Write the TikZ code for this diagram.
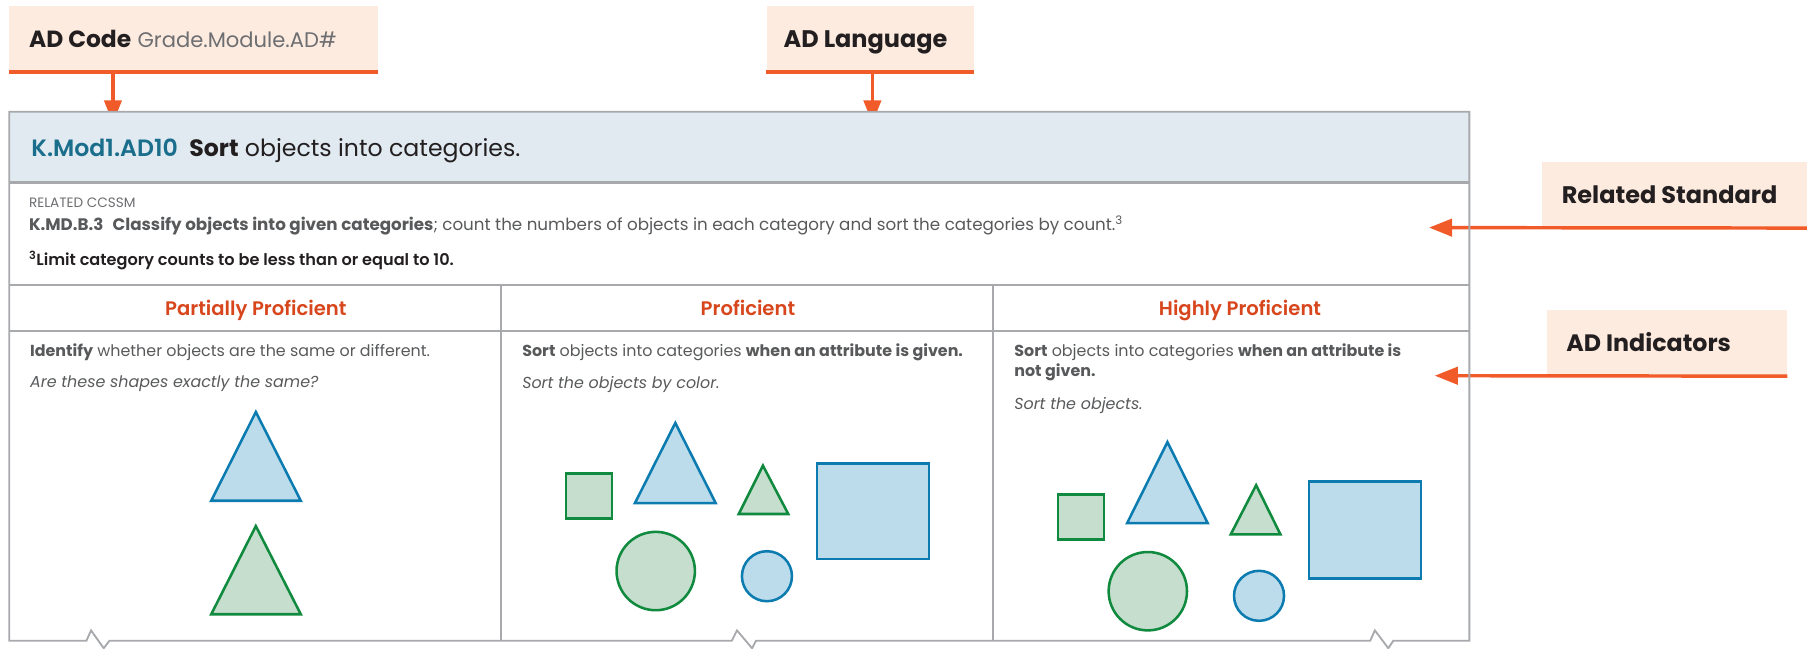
\documentclass[tikz,border=0pt]{standalone}
\usepackage{fontspec}
\setmainfont{Poppins}
\newfontfamily\medfont{Poppins}[UprightFont=* Medium, BoldFont=* SemiBold]
\usetikzlibrary{arrows.meta}

\definecolor{peach}{HTML}{FDEBDF}
\definecolor{accent}{HTML}{F15A29}
\definecolor{band}{HTML}{E0EAF0}
\definecolor{rulegray}{HTML}{A7A9AC}
\definecolor{codeteal}{HTML}{1A6E8C}
\definecolor{levelred}{HTML}{D7461D}
\definecolor{darktext}{HTML}{231F20}
\definecolor{bodygray}{HTML}{58595B}
\definecolor{lightgray}{HTML}{6D6E71}
\definecolor{bluefill}{HTML}{BCDCEC}
\definecolor{bluedraw}{HTML}{0C7CB0}
\definecolor{greenfill}{HTML}{C6DECD}
\definecolor{greendraw}{HTML}{108A3E}

\newcommand{\fs}[1]{\fontsize{#1pt}{#1pt}\selectfont}
\newcommand{\semi}[1]{{\medfont\bfseries #1}}

\begin{document}
\begin{tikzpicture}[x=1pt,y=-1pt,
  callout/.style={fill=peach, draw=none, inner sep=0pt, anchor=north west},
  calloutline/.style={draw=accent, line width=3pt},
  pointer/.style={draw=accent, line width=3pt, -{Triangle[length=20pt,width=15pt]}},
  rule/.style={draw=rulegray, line width=1.6pt},
  lbl/.style={inner sep=0pt, anchor=base west},
  bshape/.style={draw=bluedraw, fill=bluefill, line width=2.2pt},
  gshape/.style={draw=greendraw, fill=greenfill, line width=2.2pt},
]
\useasboundingbox (0,0) rectangle (1568,563);

% ---------- callouts above the table ----------
\node[callout, minimum width=320pt, minimum height=57pt] (codebox) at (8,5) {};
\draw[calloutline] (codebox.south west) -- (codebox.south east);
\node[lbl] (codetext) at (25,41) {\fs{20.3}\color{darktext}\textbf{AD Code} {\fs{18.3}\color{lightgray}Grade.Module.AD\#}};

\node[callout, minimum width=180pt, minimum height=57pt] (langbox) at (665,5) {};
\draw[calloutline] (langbox.south west) -- (langbox.south east);
\node[lbl, anchor=base] (langtext) at (751,41) {\fs{20.8}\color{darktext}\textbf{AD Language}};

\coordinate (codetip) at (98,107);
\coordinate (langtip) at (757,107);
\draw[pointer] (codebox.south -| codetip) -- (codetip);
\draw[pointer] (langbox.south -| langtip) -- (langtip);

% ---------- callouts to the right ----------
\node[callout, minimum width=230pt, minimum height=57pt] (stdbox) at (1338,140.5) {};
\node[lbl] (stdtext) at (1355,177) {\fs{20.8}\color{darktext}\textbf{Related Standard}};
\coordinate (stdtip) at (1240,197.5);
\draw[pointer] (stdbox.south east) -- (stdtip);

\node[callout, minimum width=208pt, minimum height=57pt] (indbox) at (1342.5,269) {};
\node[lbl] (indtext) at (1359,305) {\fs{20.6}\color{darktext}\textbf{AD Indicators}};
\coordinate (indtip) at (1245,326);
\draw[pointer] (indbox.south east) -- (indtip);

% ---------- table ----------
\node[fill=band, draw=none, inner sep=0pt, anchor=north west,
      minimum width=1267pt, minimum height=61pt] (band) at (8,97) {};
\draw[rule] (8,556) -- (8,97) -- (1275,97) -- (1275,556)
  -- (1209,556) -- (1204.7,562.5) -- (1193,547) -- (1189,556)
  -- (656,556) -- (652.6,562.5) -- (639.5,547) -- (635,556)
  -- (95,556) -- (90,562.5) -- (79,547) -- (75,556) -- cycle;
\draw[rule, line width=2pt] (band.south west) -- (band.south east);
\draw[rule] (8,247) -- (1275,247);
\draw[rule] (8,287) -- (1275,287);
\draw[rule] (435,247) -- (435,556);
\draw[rule] (862,247) -- (862,556);

% header row
\node[lbl] (adtitle) at (27,136) {\fs{20.5}{\color{codeteal}\semi{K.Mod1.AD10}}\hspace{10pt}\color{darktext}\textbf{Sort} objects into categories.};

% related standard
\node[lbl] (relhead) at (25,180) {\fs{11.8}\color{lightgray}RELATED CCSSM};
\node[lbl] (reltext) at (25,200) {\fs{14.5}\color{bodygray}\textbf{K.MD.B.3\hspace{8pt}Classify objects into given categories}; count the numbers of objects in each category and sort the categories by count.\textsuperscript{3}};
\node[lbl] (relnote) at (25,230) {\fs{14}\color{darktext}\semi{\textsuperscript{3}Limit category counts to be less than or equal to 10.}};

% level headings
\node[lbl, anchor=base] (lvlA) at (222,274) {\fs{17}\color{levelred}\semi{Partially Proficient}};
\node[lbl, anchor=base] (lvlB) at (649,274) {\fs{17}\color{levelred}\semi{Proficient}};
\node[lbl, anchor=base] (lvlC) at (1076,274) {\fs{17}\color{levelred}\semi{Highly Proficient}};

% indicator texts
\node[lbl] (indA1) at (26,309) {\fs{13.8}\color{bodygray}\textbf{Identify} whether objects are the same or different.};
\node[lbl] (indA2) at (26,336) {\fs{13.8}\color{bodygray}\itshape Are these shapes exactly the same?};
\node[lbl] (indB1) at (453,309) {\fs{13.8}\color{bodygray}\textbf{Sort} objects into categories \textbf{when an attribute is given.}};
\node[lbl] (indB2) at (453,337) {\fs{13.8}\color{bodygray}\itshape Sort the objects by color.};
\node[lbl] (indC1) at (880,309) {\fs{13.8}\color{bodygray}\textbf{Sort} objects into categories \textbf{when an attribute is}};
\node[lbl] (indC2) at (880,327) {\fs{13.8}\color{bodygray}\textbf{not given.}};
\node[lbl] (indC3) at (880,355) {\fs{13.8}\color{bodygray}\itshape Sort the objects.};

% ---------- shapes, first column ----------
\draw[bshape] (222,357.5) -- (261,434.5) -- (183.3,434.5) -- cycle;
\draw[gshape] (222,456.5) -- (261,533) -- (183.3,533) -- cycle;

% ---------- shapes, second column ----------
\draw[gshape] (491,411) rectangle (531,450);
\draw[bshape] (586,367) -- (621,436.5) -- (551,436.5) -- cycle;
\draw[gshape] (662,404) -- (684,446) -- (641,446) -- cycle;
\draw[bshape] (709,402) rectangle (806,485);
\draw[gshape] (569,495.5) circle (34);
\draw[bshape] (665.5,500) circle (21.7);

% ---------- shapes, third column ----------
\draw[gshape] (918,429) rectangle (958,468);
\draw[bshape] (1013,383.6) -- (1048,454) -- (978,454) -- cycle;
\draw[gshape] (1090,421) -- (1111,463.6) -- (1068,463.6) -- cycle;
\draw[bshape] (1136,418) rectangle (1233,502);
\draw[gshape] (996,513) circle (34);
\draw[bshape] (1092.5,517) circle (21.7);
\end{tikzpicture}
\end{document}
